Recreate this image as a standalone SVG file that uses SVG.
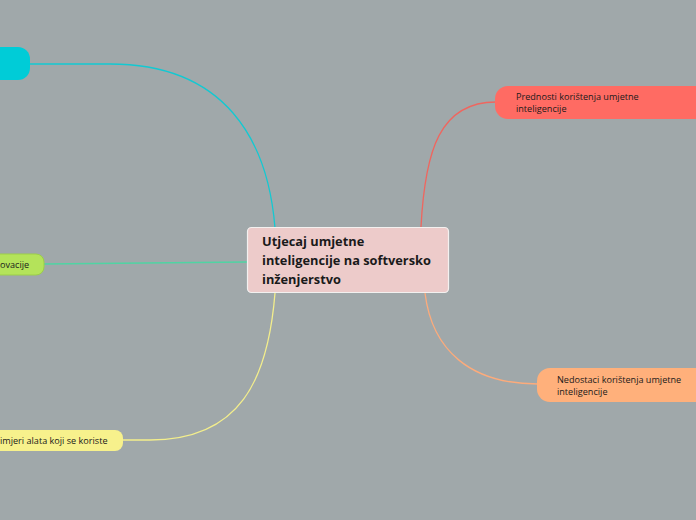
<svg xmlns="http://www.w3.org/2000/svg" width="696" height="520" viewBox="0 0 696 520">
<style>
.bg{fill:#a0a8aa}
.c{fill:none;stroke-width:1.3}
.t{font-family:"Open Sans","Noto Sans",sans-serif;fill:#1a1a1a}
.s{font-size:9.1px}
.m{font-size:12.8px;font-weight:bold}
</style>
<rect class="bg" width="696" height="520"/>
<g id="connectors">
<path class="c" stroke="#12c9d2" d="M 28 64 L 110 64 C 225 64 268 140 275 228"/>
<path class="c" stroke="#4fd4a3" d="M 44 264 L 247 262"/>
<path class="c" stroke="#f3ee8c" d="M 122 440 L 150 440 C 240 440 268 380 275 293"/>
<path class="c" stroke="#ef665f" d="M 496 102 C 440 102 425 150 421 227"/>
<path class="c" stroke="#fdab7b" d="M 538 384 C 470 384 432 350 425 293"/>
</g>
<g id="n-cyan">
<rect x="-20" y="47" width="50" height="33" rx="12" fill="#00ccd7"/>
</g>
<g id="n-green">
<rect x="-20" y="254" width="64" height="21" rx="8" fill="#b4e35a" stroke="#9ccf48" stroke-width="1"/>
<text class="t s" x="0" y="268">ovacije</text>
</g>
<g id="n-yellow">
<rect x="-20" y="430" width="143" height="21" rx="8" fill="#f7f18c"/>
<text class="t s" x="0" y="444">imjeri alata koji se koriste</text>
</g>
<g id="n-red">
<rect x="495" y="86" width="230" height="33" rx="13" fill="#ff6b63"/>
<text class="t s" x="516" y="100">Prednosti korištenja umjetne</text>
<text class="t s" x="516" y="112">inteligencije</text>
</g>
<g id="n-orange">
<rect x="537" y="368" width="190" height="34" rx="13" fill="#ffb07b"/>
<text class="t s" x="557" y="383">Nedostaci korištenja umjetne</text>
<text class="t s" x="557" y="395">inteligencije</text>
</g>
<g id="n-center">
<rect x="247.5" y="227.5" width="201" height="65" rx="4" fill="#edcbca" stroke="#f3f1f0" stroke-width="1.2"/>
<text class="t m" x="262" y="246">Utjecaj umjetne</text>
<text class="t m" x="262" y="265">inteligencije na softversko</text>
<text class="t m" x="262" y="284">inženjerstvo</text>
</g>
</svg>
